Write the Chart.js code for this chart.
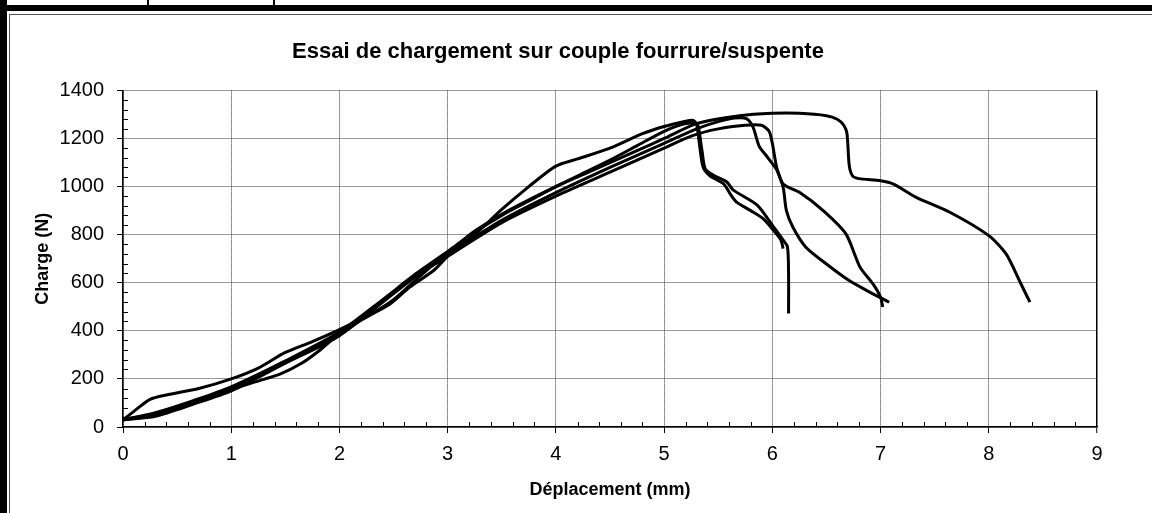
<!DOCTYPE html>
<html>
<head>
<meta charset="utf-8">
<script src="https://cdn.jsdelivr.net/npm/chart.js@4/dist/chart.umd.min.js"></script>
<style>
    html, body { margin: 0; padding: 0; background: #fff; }
    #wrap { position: relative; width: 1152px; height: 513px; overflow: hidden; }
    #wrap canvas { position: absolute; left: 0; top: 0; }
    .frame { position: absolute; z-index: 2; }
</style>
</head>
<body>
<div id="wrap">
    <canvas id="chart" width="1152" height="513"></canvas>
    <!-- cadre du tableau Word autour du graphique -->
    <div class="frame" style="left:0;top:0;width:7px;height:513px;background:#000"></div>
    <div class="frame" style="left:0;top:5px;width:1152px;height:6px;background:#000"></div>
    <div class="frame" style="left:147px;top:0;width:2px;height:5px;background:#000"></div>
    <div class="frame" style="left:273px;top:0;width:2px;height:5px;background:#000"></div>
    <div class="frame" style="left:9px;top:14px;width:1143px;height:1px;background:#555"></div>
    <div class="frame" style="left:9px;top:14px;width:1px;height:499px;background:#555"></div>
</div>
<script>
// Essai 1 : rupture tardive (vers 8,4 mm)
const dispA = [0, 0.1, 0.25, 0.4, 0.7, 1.0, 1.25, 1.5, 1.75, 2.0, 2.25, 2.5, 2.75, 3.0, 3.25, 3.5, 3.75, 4.0, 4.25, 4.5, 4.75, 5.0, 5.3, 5.7, 6.0, 6.25, 6.5, 6.6, 6.66, 6.69, 6.71, 6.74, 6.8, 7.0, 7.12, 7.33, 7.64, 8.0, 8.16, 8.29, 8.38];
const loadA = [30, 65, 115, 133, 160, 200, 245, 310, 355, 405, 460, 530, 630, 725, 815, 885, 945, 1000, 1050, 1100, 1150, 1200, 1262, 1295, 1305, 1305, 1295, 1280, 1255, 1220, 1090, 1045, 1033, 1024, 1010, 955, 893, 796, 720, 602, 519];

// Essai 2 : chute vers 7,0 mm
const dispB = [0, 0.3, 0.65, 1.0, 1.5, 2.0, 2.5, 2.75, 3.0, 3.5, 4.0, 4.5, 5.0, 5.3, 5.5, 5.65, 5.76, 5.82, 5.88, 5.95, 6.04, 6.1, 6.25, 6.47, 6.68, 6.81, 6.93, 7.0, 7.02];
const loadB = [30, 50, 100, 160, 270, 390, 560, 650, 720, 860, 975, 1080, 1180, 1240, 1270, 1285, 1283, 1249, 1166, 1125, 1070, 1010, 976, 900, 803, 665, 595, 540, 499];

// Essai 3 : genou vers 4 mm, fin vers 6,1 mm
const dispC = [0, 0.3, 0.65, 1.0, 1.2, 1.45, 1.65, 1.8, 2.0, 2.25, 2.47, 2.65, 2.87, 3.0, 3.25, 3.5, 3.75, 4.0, 4.2, 4.5, 4.8, 5.0, 5.2, 5.27, 5.3, 5.33, 5.36, 5.42, 5.55, 5.61, 5.67, 5.8, 5.92, 6.01, 6.08, 6.1];
const loadC = [30, 55, 98, 155, 185, 220, 265, 313, 388, 457, 513, 582, 651, 710, 800, 905, 1000, 1085, 1115, 1160, 1220, 1250, 1272, 1275, 1260, 1164, 1081, 1046, 1011, 970, 935, 900, 865, 818, 777, 742];

// Essai 4 : chute verticale vers 6,15 mm
const dispD = [0, 0.3, 0.65, 1.0, 1.5, 2.0, 2.4, 2.7, 3.0, 3.25, 3.5, 3.75, 4.0, 4.25, 4.5, 4.75, 5.0, 5.2, 5.3, 5.32, 5.35, 5.38, 5.46, 5.58, 5.64, 5.86, 6.01, 6.1, 6.14, 6.15, 6.15];
const loadD = [30, 60, 110, 167, 275, 395, 530, 635, 730, 810, 880, 940, 1000, 1055, 1110, 1170, 1230, 1262, 1262, 1240, 1150, 1074, 1046, 1019, 985, 923, 833, 777, 749, 638, 472];

// Essai 5 : fin vers 7,1 mm
const dispE = [0, 0.3, 0.65, 1.0, 1.5, 2.0, 2.5, 2.75, 3.0, 3.5, 4.0, 4.5, 5.0, 5.25, 5.5, 5.75, 5.9, 5.97, 6.0, 6.04, 6.1, 6.13, 6.19, 6.31, 6.5, 6.71, 6.9, 7.08];
const loadE = [30, 45, 95, 150, 265, 380, 555, 640, 710, 850, 960, 1060, 1160, 1210, 1240, 1255, 1255, 1230, 1180, 1080, 997, 900, 831, 748, 678, 609, 561, 519];

const xTicks = [0, 1, 2, 3, 4, 5, 6, 7, 8, 9];
const yTicks = [0, 200, 400, 600, 800, 1000, 1200, 1400];

const FONT = "'Liberation Sans', Arial, sans-serif";

function toPoints(xs, ys) {
    return xs.map((x, i) => ({ x: x, y: ys[i] }));
}

function curve(label, xs, ys) {
    return {
        label: label,
        data: toPoints(xs, ys),
        showLine: true,
        borderColor: '#000',
        borderWidth: 3,
        pointRadius: 0,
        tension: 0.25,
        fill: false
    };
}

// petites graduations secondaires (Excel style)
const minorTicks = {
    id: 'minorTicks',
    afterDatasetsDraw(chart) {
        const { ctx, scales: { x, y } } = chart;
        ctx.save();
        ctx.strokeStyle = '#000';
        ctx.lineWidth = 1;
        ctx.beginPath();
        for (let v = 40; v < 1400; v += 40) {
            if (v % 200 === 0) continue;
            const py = Math.round(y.getPixelForValue(v)) + 0.5;
            ctx.moveTo(x.left, py);
            ctx.lineTo(x.left + 5, py);
        }
        for (let v = 0.2; v < 9; v += 0.2) {
            if (Math.abs(v - Math.round(v)) < 0.01) continue;
            const px = Math.round(x.getPixelForValue(v)) + 0.5;
            ctx.moveTo(px, y.bottom);
            ctx.lineTo(px, y.bottom - 5);
        }
        ctx.stroke();
        ctx.restore();
    }
};

const isLast = (c) => c.tick && c.tick.value === 9;

new Chart(document.getElementById('chart'), {
    type: 'scatter',
    data: {
        datasets: [
            curve('Essai 1', dispA, loadA),
            curve('Essai 2', dispB, loadB),
            curve('Essai 3', dispC, loadC),
            curve('Essai 4', dispD, loadD),
            curve('Essai 5', dispE, loadE)
        ]
    },
    options: {
        responsive: false,
        animation: false,
        layout: { padding: { left: 19, right: 55, top: 0, bottom: 0 } },
        plugins: {
            legend: { display: false },
            tooltip: { enabled: false },
            title: {
                display: true,
                text: 'Essai de chargement sur couple fourrure/suspente',
                color: '#000',
                font: { family: FONT, size: 22, weight: 'bold' },
                padding: { top: 39, bottom: 25 }
            }
        },
        scales: {
            x: {
                type: 'linear',
                min: 0,
                max: 9,
                afterBuildTicks: (s) => { s.ticks = xTicks.map(v => ({ value: v })); },
                afterFit: (s) => { s.height = 86; },
                ticks: {
                    color: '#000',
                    font: { family: FONT, size: 20 },
                    padding: 9,
                    maxRotation: 0,
                    callback: (v) => String(v)
                },
                grid: {
                    color: (c) => isLast(c) ? '#000' : '#333',
                    lineWidth: (c) => isLast(c) ? 1.5 : 1,
                    tickColor: '#000',
                    tickLength: 6,
                    tickWidth: 1
                },
                border: {
                    display: true,
                    color: '#000',
                    width: 1.5,
                    dash: (c) => isLast(c) ? [] : [1, 1]
                },
                title: {
                    display: true,
                    text: 'Déplacement (mm)',
                    color: '#000',
                    font: { family: FONT, size: 18, weight: 'bold' },
                    padding: { top: 0, bottom: 12 }
                }
            },
            y: {
                type: 'linear',
                min: 0,
                max: 1400,
                afterBuildTicks: (s) => { s.ticks = yTicks.map(v => ({ value: v })); },
                afterFit: (s) => { s.width = 104; },
                ticks: {
                    color: '#000',
                    font: { family: FONT, size: 20 },
                    padding: 13,
                    callback: (v) => String(v)
                },
                grid: {
                    color: '#333',
                    tickColor: '#000',
                    tickLength: 6,
                    tickWidth: 1
                },
                border: { display: true, color: '#000', width: 1.5, dash: [1, 1] },
                title: {
                    display: true,
                    text: 'Charge (N)',
                    color: '#000',
                    font: { family: FONT, size: 18, weight: 'bold' },
                    padding: { top: 13, bottom: 0 }
                }
            }
        }
    },
    plugins: [minorTicks]
});
</script>
</body>
</html>
